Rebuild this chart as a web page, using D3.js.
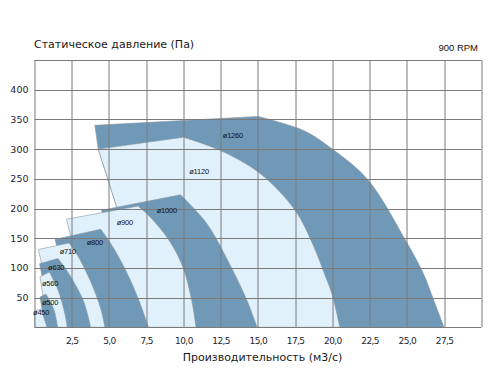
<!DOCTYPE html>
<html>
<head>
<meta charset="utf-8">
<script src="https://cdn.jsdelivr.net/npm/d3@7"></script>
<style>
  body { margin: 0; background: #fff; }
  svg { display: block; }
</style>
</head>
<body>
<div class="fanChart"></div>
<script>
'use strict';
// fan sizes, biggest first (drawn in that order so smaller ones sit on top)
var sizes = ['ø1260', 'ø1120', 'ø1000', 'ø900', 'ø800', 'ø710', 'ø630', 'ø560', 'ø500', 'ø450'];

// each area: [flow m3/s, pressure Pa] going round the outline
// first point = top left corner, then the fan curve down to the x axis, then the hidden left side
var curve1260 = [[4.05, 340], [15.0, 355], [18.1, 331], [20.0, 300], [22.4, 248], [24.9, 147], [26.1, 91], [26.8, 46], [27.5, 0], [8.1, 0], [4.28, 300]];
var curve1120 = [[4.28, 300], [10.0, 320], [12.45, 298], [15.15, 259], [17.5, 197], [18.7, 139], [19.5, 88], [20.0, 54], [20.5, 0], [8.1, 0]];
var curve1000 = [[4.5, 197], [9.8, 223], [11.55, 175], [13.25, 99], [14.25, 46], [14.95, 0], [7.0, 0]];
var curve900 = [[2.15, 182], [6.95, 204], [7.75, 186], [9.1, 144], [10.0, 99], [10.55, 46], [10.85, 0], [3.9, 0]];
var curve800 = [[1.38, 148], [4.45, 165], [5.17, 139], [6.2, 92], [7.0, 46], [7.65, 0], [2.9, 0]];
var curve710 = [[0.26, 131], [2.32, 142], [2.87, 122], [3.77, 77], [4.44, 32], [4.73, 0], [1.44, 0]];
var curve630 = [[0.34, 107], [1.58, 116], [2.26, 92], [3.21, 49], [3.6, 18], [3.76, 0], [1.2, 0]];
var curve560 = [[0.37, 85], [1.0, 93], [1.58, 63], [2.03, 24], [2.2, 0], [0.9, 0]];
var curve500 = [[0.37, 51], [0.77, 56], [1.31, 29], [1.55, 0], [0.7, 0]];
var curve450 = [[0.0, 27], [0.44, 31], [0.84, 0], [0.0, 0]];
var curves = [curve1260, curve1120, curve1000, curve900, curve800, curve710, curve630, curve560, curve500, curve450];

// where the size names sit
var labelFlow = [12.64, 10.39, 8.2, 5.52, 3.5, 1.69, 0.91, 0.5, 0.5, -0.1];
var labelPressure = [319, 258, 192, 172, 138, 123, 97, 70, 37, 20];

var flowTicks = [2.5, 5, 7.5, 10, 12.5, 15, 17.5, 20, 22.5, 25, 27.5];
var pressureTicks = [50, 100, 150, 200, 250, 300, 350, 400];
var flowGrid = d3.range(0, 30.01, 2.5);
var pressureGrid = d3.range(0, 450.1, 50);

var margin = {top: 60, right: 9.7, bottom: 44.7, left: 34.5},
  width = 491 - margin.left - margin.right,
  height = 372 - margin.top - margin.bottom;

var x = d3.scaleLinear().domain([0, 30]).range([0, width]);
var y = d3.scaleLinear().domain([0, 450]).range([height, 0]);

var root = d3.select('.fanChart').append('svg')
  .attr('width', 491)
  .attr('height', 372);

var svg = root.append('g')
  .attr('transform', 'translate(' + margin.left + ',' + margin.top + ')');

///////////////////////FAN AREAS///////////////////////////////
var smooth = d3.line()
  .x(function(d) { return x(d[0]); })
  .y(function(d) { return y(d[1]); })
  .curve(d3.curveCatmullRom.alpha(0.5));

var areaPath = function(pts) {
  // straight top edge, smooth fan curve, straight hidden sides
  var end = pts.findIndex(function(p) { return p[1] === 0; });
  var curved = smooth(pts.slice(1, end + 1));
  var path = 'M' + x(pts[0][0]) + ',' + y(pts[0][1]) + 'L' + curved.slice(1);
  pts.slice(end + 1).forEach(function(p) {
    path += 'L' + x(p[0]) + ',' + y(p[1]);
  });
  return path + 'Z';
};

svg.selectAll('.area')
  .data(curves)
  .enter().append('path')
  .attr('class', 'area')
  .attr('d', areaPath)
  .style('fill', function(d, i) { return i % 2 === 0 ? '#7099b8' : '#e1f1fb'; })
  .style('stroke', '#8795a3')
  .style('stroke-width', 0.6);

///////////////////////GRID///////////////////////////////
svg.selectAll('.vgrid')
  .data(flowGrid)
  .enter().append('line')
  .attr('class', 'vgrid')
  .attr('x1', function(d) { return Math.round(x(d)) + 0.5; })
  .attr('x2', function(d) { return Math.round(x(d)) + 0.5; })
  .attr('y1', 0)
  .attr('y2', height)
  .style('stroke', '#7a7a7a')
  .style('stroke-width', 1);

svg.selectAll('.hgrid')
  .data(pressureGrid)
  .enter().append('line')
  .attr('class', 'hgrid')
  .attr('x1', 0)
  .attr('x2', width)
  .attr('y1', function(d) { return Math.round(y(d)) + 0.5; })
  .attr('y2', function(d) { return Math.round(y(d)) + 0.5; })
  .style('stroke', '#7a7a7a')
  .style('stroke-width', 1);

///////////////////////AXES///////////////////////////////
var commaFormat = function(d) { return d3.format('.1f')(d).replace('.', ','); };

var xAxis = svg.append('g')
  .attr('transform', 'translate(0,' + height + ')')
  .call(d3.axisBottom(x).tickValues(flowTicks).tickFormat(commaFormat).tickSize(0).tickPadding(10));
xAxis.select('.domain').remove();
xAxis.selectAll('text')
  .style('font-family', 'Verdana, "DejaVu Sans", sans-serif')
  .style('font-size', '9px')
  .style('letter-spacing', '-0.6px')
  .style('fill', '#1d2230');

var yAxis = svg.append('g')
  .call(d3.axisLeft(y).tickValues(pressureTicks).tickSize(0).tickPadding(6));
yAxis.select('.domain').remove();
yAxis.selectAll('text')
  .style('font-family', 'Verdana, "DejaVu Sans", sans-serif')
  .style('font-size', '9.5px')
  .style('fill', '#1d2230');

///////////////////////LABELS///////////////////////////////
svg.selectAll('.sizeLabel')
  .data(sizes)
  .enter().append('text')
  .attr('class', 'sizeLabel')
  .attr('x', function(d, i) { return x(labelFlow[i]); })
  .attr('y', function(d, i) { return y(labelPressure[i]); })
  .style('font-family', '"Liberation Sans", Arial, sans-serif')
  .style('font-size', '7.5px')
  .style('letter-spacing', '-0.2px')
  .style('fill', '#111')
  .text(function(d) { return d; });

root.append('text')
  .attr('x', 34)
  .attr('y', 48)
  .style('font-family', '"DejaVu Sans", Verdana, sans-serif')
  .style('font-size', '11px')
  .style('fill', '#1a1a1a')
  .text('Статическое давление (Па)');

root.append('text')
  .attr('x', 478)
  .attr('y', 50.5)
  .attr('text-anchor', 'end')
  .style('font-family', '"Liberation Sans", Arial, sans-serif')
  .style('font-size', '9.5px')
  .style('fill', '#111')
  .text('900 RPM');

root.append('text')
  .attr('x', 262.5)
  .attr('y', 361)
  .attr('text-anchor', 'middle')
  .style('font-family', '"DejaVu Sans", Verdana, sans-serif')
  .style('font-size', '11px')
  .style('fill', '#1a1a1a')
  .text('Производительность (м3/с)');
</script>
</body>
</html>
